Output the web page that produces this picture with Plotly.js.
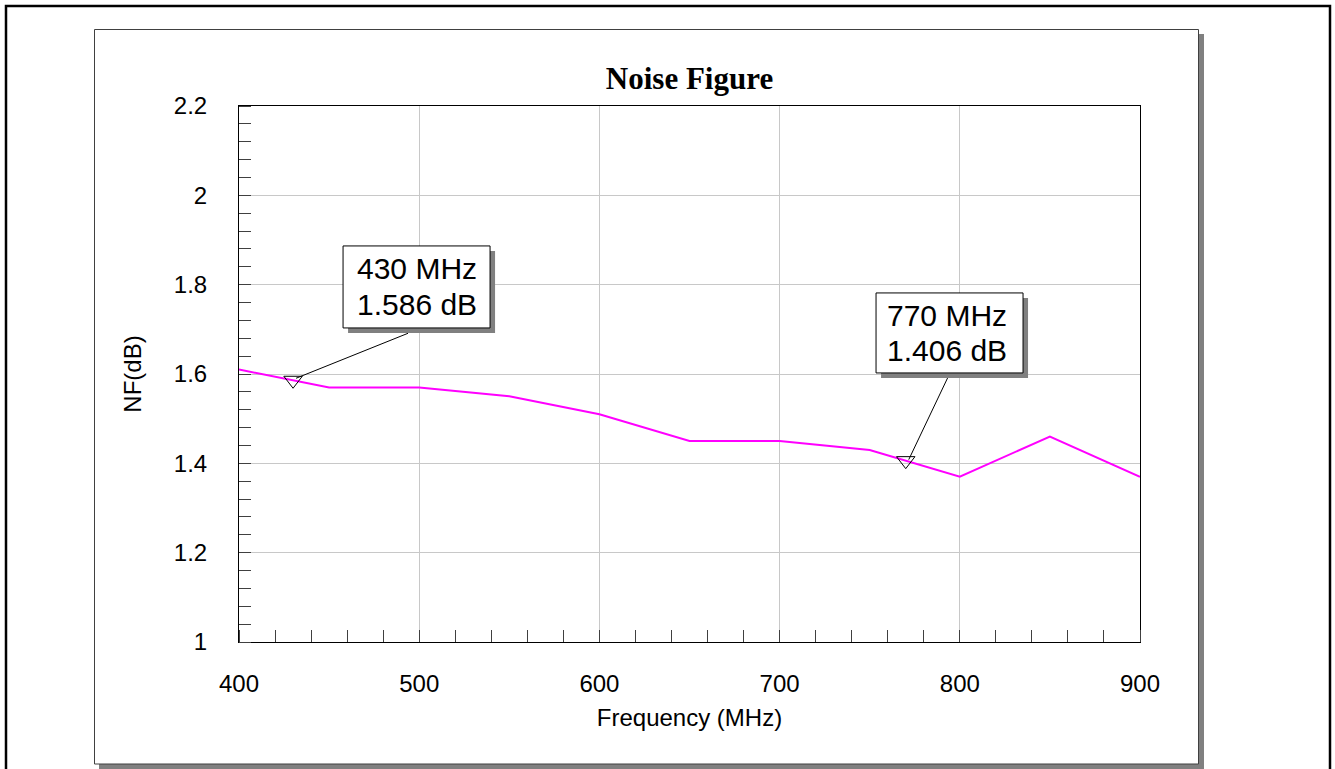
<!DOCTYPE html>
<html>
<head>
<meta charset="utf-8">
<script src="https://cdn.plot.ly/plotly-3.0.1.min.js"></script>
<style>
html,body{margin:0;padding:0;background:#fff;}
#chart{width:1335px;height:769px;}
</style>
</head>
<body>
<div id="chart"></div>
<script>
// Data
const freqMHz = [400, 450, 500, 550, 600, 650, 700, 750, 800, 850, 900];
const nfDb    = [1.61, 1.57, 1.57, 1.55, 1.51, 1.45, 1.45, 1.43, 1.37, 1.46, 1.37];
const markerFreq = [430, 770];
const markerNf   = [1.586, 1.406];
const markerFreqLabel = ["430 MHz", "770 MHz"];
const markerNfLabel   = ["1.586 dB", "1.406 dB"];
const xTickVals = [400, 500, 600, 700, 800, 900];
const yTickVals = [1, 1.2, 1.4, 1.6, 1.8, 2, 2.2];

// Layout geometry (pixels)
const W = 1335, H = 769;
const L = 239, R = 1140, T = 106, B = 642;
const PW = R - L, PH = B - T;
const px2x = p => (p - L) / PW;
const py2y = p => (B - p) / PH;

const sans = "Liberation Sans, Arial, sans-serif";

const traces = [
  {
    x: freqMHz, y: nfDb, type: "scatter", mode: "lines",
    line: {color: "#ff00ff", width: 2},
    hoverinfo: "skip", showlegend: false
  },
  {
    x: markerFreq, y: markerNf, type: "scatter", mode: "markers",
    marker: {symbol: "triangle-down-open", size: 16, color: "#000", line: {width: 1, color: "#000"}},
    hoverinfo: "skip", showlegend: false
  }
];

// Callout box geometry relative to marker point (pixels; x right, y up)
const boxes = [
  {x0: 50, x1: 197, y0: 52.3, y1: 134.3, tx: 123.5, ty1: 112, ty2: 76, c: [3, 2, 115, 47]},
  {x0: -29.7, x1: 117.3, y0: 87.7, y1: 167.7, tx: 41.5, ty1: 145, ty2: 110, c: [3, 1, 42, 83]}
];

const annotations = [];
const shapes = [];

// outer frame
shapes.push({type: "rect", xref: "paper", yref: "paper", layer: "below",
  x0: px2x(6), x1: px2x(1330), y0: py2y(6), y1: py2y(790),
  line: {color: "#000", width: 2.5}, fillcolor: "rgba(0,0,0,0)"});
// inner panel shadow
shapes.push({type: "rect", xref: "paper", yref: "paper", layer: "below",
  x0: px2x(99), x1: px2x(1204), y0: py2y(34), y1: py2y(769),
  line: {width: 0}, fillcolor: "#808080"});
// inner panel
shapes.push({type: "rect", xref: "paper", yref: "paper", layer: "below",
  x0: px2x(94.5), x1: px2x(1198.5), y0: py2y(29.5), y1: py2y(764),
  line: {color: "#404040", width: 1}, fillcolor: "#ffffff"});

for (let i = 0; i < markerFreq.length; i++) {
  const b = boxes[i];
  const base = {type: "rect", xref: "x", yref: "y", xsizemode: "pixel", ysizemode: "pixel",
    xanchor: markerFreq[i], yanchor: markerNf[i], layer: "above"};
  // connector
  shapes.push({type: "line", xref: "x", yref: "y", xsizemode: "pixel", ysizemode: "pixel",
    xanchor: markerFreq[i], yanchor: markerNf[i],
    x0: b.c[0], y0: b.c[1], x1: b.c[2], y1: b.c[3], line: {color: "#000", width: 1}});
  // shadow
  shapes.push(Object.assign({}, base, {x0: b.x0 + 5, x1: b.x1 + 5, y0: b.y0 - 5, y1: b.y1 - 5,
    line: {width: 0}, fillcolor: "#808080"}));
  // box
  shapes.push(Object.assign({}, base, {x0: b.x0, x1: b.x1, y0: b.y0, y1: b.y1,
    line: {color: "#000", width: 1}, fillcolor: "#ffffff"}));
  const lines = [[markerFreqLabel[i], b.ty1], [markerNfLabel[i], b.ty2]];
  for (const [txt, ty] of lines) {
    annotations.push({
      x: markerFreq[i], y: markerNf[i], xref: "x", yref: "y",
      text: txt, showarrow: false,
      xanchor: "center", yanchor: "middle",
      xshift: b.tx, yshift: ty,
      borderpad: 0,
      font: {family: sans, size: 30, color: "#000"}
    });
  }
}

const layout = {
  width: W, height: H,
  margin: {l: L, r: W - R, t: T, b: H - B, pad: 0},
  paper_bgcolor: "#ffffff",
  plot_bgcolor: "#ffffff",
  showlegend: false,
  title: {
    text: "<b>Noise Figure</b>",
    font: {family: "Liberation Serif, Times New Roman, serif", size: 31, color: "#000"},
    xref: "paper", x: 0.5, xanchor: "center",
    yref: "container", y: 1 - 78 / H, yanchor: "middle"
  },
  xaxis: {
    range: [400, 900], tickmode: "array", tickvals: xTickVals,
    ticks: "", showgrid: true, gridcolor: "#c8c8c8", gridwidth: 1,
    zeroline: false, showline: true, linecolor: "#000", linewidth: 1, mirror: true,
    tickfont: {family: sans, size: 24, color: "#000"},
    ticklabelstandoff: 20,
    minor: {ticks: "inside", dtick: 20, tick0: 400, ticklen: 12, tickwidth: 1, tickcolor: "#404040", showgrid: false},
    title: {text: "Frequency (MHz)", font: {family: sans, size: 24, color: "#000"}, standoff: 13},
    automargin: false, fixedrange: true
  },
  yaxis: {
    range: [1, 2.2], tickmode: "array", tickvals: yTickVals,
    ticks: "", showgrid: true, gridcolor: "#c8c8c8", gridwidth: 1,
    zeroline: false, showline: true, linecolor: "#000", linewidth: 1, mirror: true,
    tickfont: {family: sans, size: 24, color: "#000"},
    ticklabelstandoff: 26,
    minor: {ticks: "inside", dtick: 0.04, tick0: 1, ticklen: 12, tickwidth: 1, tickcolor: "#404040", showgrid: false},
    title: {text: "NF(dB)", font: {family: sans, size: 24, color: "#000"}, standoff: 25},
    automargin: false, fixedrange: true
  },
  annotations: annotations,
  shapes: shapes
};

Plotly.newPlot("chart", traces, layout, {displayModeBar: false, staticPlot: true});
</script>
</body>
</html>
